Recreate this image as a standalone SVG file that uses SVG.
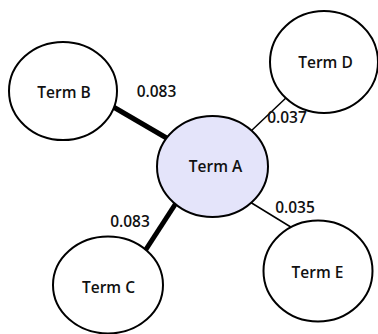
<svg xmlns="http://www.w3.org/2000/svg" width="378" height="334" viewBox="0 0 378 334">
<style>
.node{fill:#fff;stroke:#000;stroke-width:2}
.main{fill:#e4e4fa}
.t{font-family:"Open Sans",sans-serif;font-weight:600;font-size:15.5px;fill:#111;text-anchor:middle}
.thick{stroke:#000;stroke-width:5}
.thin{stroke:#000;stroke-width:1.5}
</style>
<rect width="378" height="334" fill="#fff"/>
<g id="connectors">
<line class="thick" x1="110" y1="105" x2="170" y2="140"/>
<line class="thick" x1="178" y1="200" x2="143" y2="254"/>
<line class="thin" x1="250" y1="132" x2="288" y2="96"/>
<line class="thin" x1="250" y1="202" x2="294" y2="229"/>
<text class="t" x="156.5" y="97">0.083</text>
<text class="t" x="287" y="123">0.037</text>
<text class="t" x="130" y="227">0.083</text>
<text class="t" x="295" y="213">0.035</text>
</g>
<g id="termA">
<ellipse class="node main" cx="212.5" cy="166.5" rx="55.5" ry="50.5"/>
<text class="t" x="215.5" y="172">Term A</text>
</g>
<g id="termB">
<ellipse class="node" cx="63" cy="91" rx="54" ry="49"/>
<text class="t" x="64" y="98">Term B</text>
</g>
<g id="termC">
<ellipse class="node" cx="108" cy="285" rx="55" ry="48.5"/>
<text class="t" x="108.5" y="293">Term C</text>
</g>
<g id="termD">
<ellipse class="node" cx="324" cy="62" rx="54" ry="51"/>
<text class="t" x="325.5" y="68">Term D</text>
</g>
<g id="termE">
<ellipse class="node" cx="318" cy="271" rx="54.5" ry="50.5"/>
<text class="t" x="317.5" y="278">Term E</text>
</g>
</svg>
